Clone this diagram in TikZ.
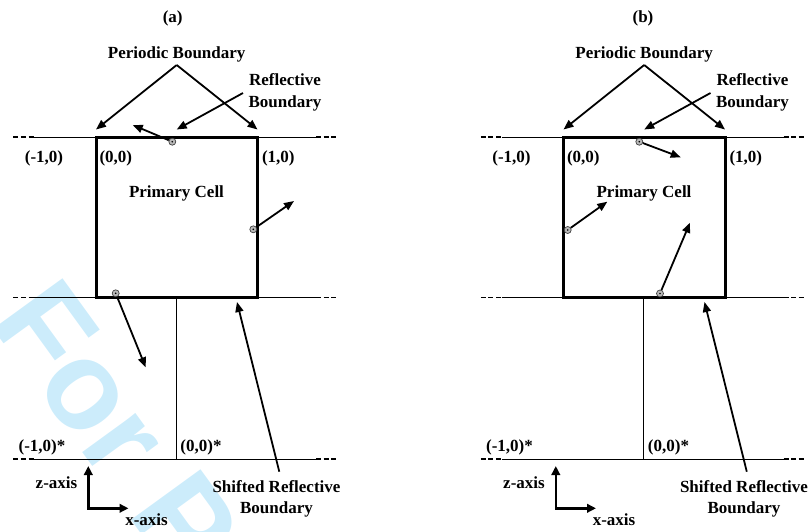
\documentclass[tikz,border=0pt]{standalone}
\usepackage{fontspec}
\setmainfont{Liberation Serif}
\newfontfamily\wmfont{Liberation Sans}
\usetikzlibrary{arrows.meta}
\definecolor{wmcyan}{RGB}{204,236,251}
\tikzset{
  lbl/.style={font=\bfseries\fontsize{17}{21.5}\selectfont, inner sep=0pt, anchor=base},
  lbl2/.style={font=\bfseries\fontsize{17}{21.5}\selectfont, inner sep=0pt, anchor=center, align=center},
  thinline/.style={line width=1pt},
  dashend/.style={line width=1.2pt, dash pattern=on 5pt off 2.6pt},
  cellbox/.style={line width=3pt, line join=miter},
  arr/.style={line width=1.8pt, -{Triangle[length=10pt,width=8pt]}},
  axisarr/.style={line width=2.4pt, line cap=rect, -{Triangle[length=9pt,width=8.5pt]}},
  particle/.style={circle, draw=black!75, fill=gray!55, line width=0.7pt, minimum size=7pt, inner sep=0pt,
    path picture={\fill[black] (path picture bounding box.center) circle (0.9pt);}},
  watermark/.style={font=\wmfont\bfseries\fontsize{125}{125}\selectfont, text=wmcyan, inner sep=0pt, anchor=base west, rotate=-54},
}
\newcommand\cellpanel[3]{%
  \begin{scope}[xshift=#2pt]
    \node[lbl] (#1title) at (#3,22) {(#1)};
    \node[lbl] (#1pb) at (176.7,58) {Periodic Boundary};
    \coordinate (#1apex) at (176.7,65);
    \coordinate (#1ltip) at (96,129.5);
    \coordinate (#1rtip) at (257.5,129.5);
    \draw[arr] (#1apex) -- (#1ltip);
    \draw[arr] (#1apex) -- (#1rtip);
    \node[lbl2] (#1rb) at (285,92.2) {Reflective\\Boundary};
    \coordinate (#1rbtail) at (243,93);
    \coordinate (#1rbtip) at (176.7,129.5);
    \draw[arr] (#1rbtail) -- (#1rbtip);
    \foreach \yy in {137,297.7,459} {
      \draw[dashend] (13.3,\yy) -- (34,\yy);
      \draw[thinline] (34,\yy) -- (316,\yy);
      \draw[dashend] (316,\yy) -- (337,\yy);
    }
    \draw[thinline] (176,297.7) -- (176,459);
    \draw[cellbox] (96,137) rectangle (257.5,297.7);
    \node[lbl] (#1lm) at (44,162) {(-1,0)};
    \node[lbl] (#1lo) at (115.8,162) {(0,0)};
    \node[lbl] (#1lp) at (278.3,162) {(1,0)};
    \node[lbl] (#1pc) at (176.5,197) {Primary Cell};
    \node[lbl] (#1sm) at (42,451) {(-1,0)*};
    \node[lbl] (#1so) at (201,451) {(0,0)*};
    \node[lbl2] (#1srb) at (276.5,498.6) {Shifted Reflective\\Boundary};
    \coordinate (#1srtail) at (279.3,471.7);
    \coordinate (#1srtip) at (237,302);
    \draw[arr] (#1srtail) -- (#1srtip);
    \coordinate (#1org) at (88.3,508.3);
    \coordinate (#1zend) at (88.3,466);
    \coordinate (#1xend) at (128.5,508.3);
    \draw[axisarr] (#1org) -- (#1zend);
    \draw[axisarr] (#1org) -- (#1xend);
    \node[lbl] (#1zl) at (56.5,488) {z-axis};
    \node[lbl] (#1xl) at (146.5,525) {x-axis};
  \end{scope}}
\begin{document}
\begin{tikzpicture}[x=1pt,y=-1pt]
  \useasboundingbox (0,0) rectangle (809,531);
  \clip (0,0) rectangle (809,531);
  \node[watermark] (wm) at (-12,322) {For Peer Review};
  \cellpanel{a}{0}{172.7}
  \cellpanel{b}{467.5}{175.5}
  % panel (a) particles
  \node[particle] (ap1) at (172.3,141.7) {};
  \coordinate (ap1t) at (132.7,125);
  \draw[arr] (ap1) -- (ap1t);
  \node[particle] (ap2) at (253.3,229.3) {};
  \coordinate (ap2t) at (294,201);
  \draw[arr] (ap2) -- (ap2t);
  \node[particle] (ap3) at (115.7,293.3) {};
  \coordinate (ap3t) at (145.7,367.3);
  \draw[arr] (ap3) -- (ap3t);
  % panel (b) particles
  \node[particle] (bp1) at (639.3,141.7) {};
  \coordinate (bp1t) at (680.7,157.3);
  \draw[arr] (bp1) -- (bp1t);
  \node[particle] (bp2) at (567.7,230) {};
  \coordinate (bp2t) at (607.3,201.7);
  \draw[arr] (bp2) -- (bp2t);
  \node[particle] (bp3) at (660,293.5) {};
  \coordinate (bp3t) at (690,222.7);
  \draw[arr] (bp3) -- (bp3t);
\end{tikzpicture}
\end{document}
